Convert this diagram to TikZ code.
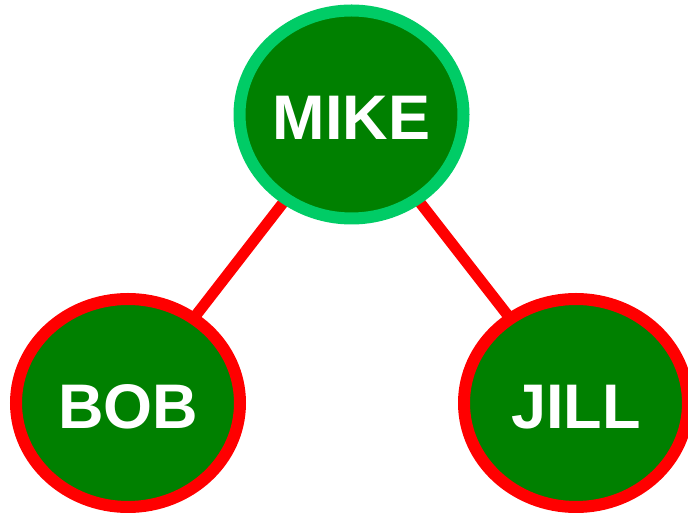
\documentclass[tikz,border=0pt]{standalone}
\usepackage{fontspec}
\setmainfont{Liberation Sans}
\usetikzlibrary{shapes.geometric,backgrounds}
\definecolor{leaf}{HTML}{008000}
\definecolor{mint}{HTML}{00CC66}
\begin{document}
\begin{tikzpicture}[x=1pt,y=1pt,
person/.style={ellipse,line width=12pt,fill=leaf,text=white,inner sep=0pt,
  text height=51pt,text depth=0pt,
  minimum width=224pt,minimum height=208pt,font=\fontsize{63}{63}\selectfont\bfseries},
link/.style={draw=red,line width=11pt}]
\useasboundingbox (0,0) rectangle (688,513);
\node[person,draw=mint] (mike) at (351.5,398.5) {MIKE};
\node[person,draw=red] (bob) at (128,110) {BOB};
\node[person,draw=red] (jill) at (576,110) {JILL};
\begin{scope}[on background layer]
\draw[link] (mike.center)--(bob.center);
\draw[link] (mike.center)--(jill.center);
\end{scope}
\end{tikzpicture}
\end{document}
